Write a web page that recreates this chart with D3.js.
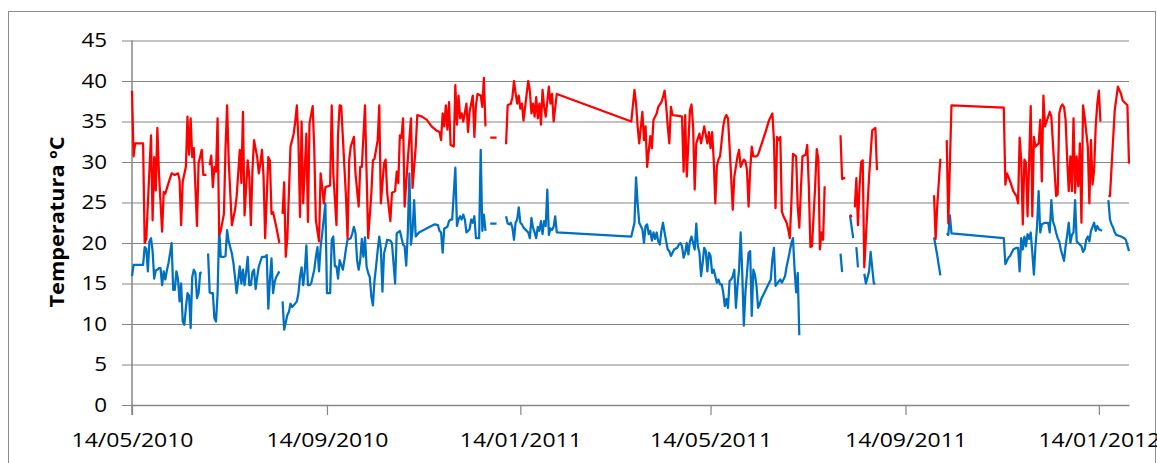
<!DOCTYPE html>
<html>
<head>
<meta charset="utf-8">
<script src="https://cdn.jsdelivr.net/npm/d3@7"></script>
<style>
  body { margin: 0; background: #fff; }
  svg { display: block; }
  .axis text { font-family: "Open Sans", sans-serif; font-size: 20px; fill: #000; }
  .title { font-family: "Open Sans", sans-serif; font-size: 20px; font-weight: bold; fill: #000; }
</style>
</head>
<body>
<svg id="chart_svg"></svg>
<script>
var viewWidth = 1157;
var viewHeight = 463;

var margin = {top: 40.5, right: 28, bottom: 58, left: 132};
var width = viewWidth - margin.left - margin.right;
var height = viewHeight - margin.top - margin.bottom;

// first day of the record, every point below is [days since startDay, ºC]
var startDay = "14/05/2010";
var lastDay = 629;
var tickDates = ["14/05/2010", "14/09/2010", "14/01/2011", "14/05/2011", "14/09/2011", "14/01/2012"];
var yTicks = [0, 5, 10, 15, 20, 25, 30, 35, 40, 45];

// daily maximum (red), null = no reading
var maxTemp = [
  [0,38.8],[1,30.7],[2,32.3],[7,32.3],[8,20.0],[9,20.5],[12,33.3],[13,22.8],[14,30.6],[15,26.5],[16,34.2],[17,28.6],
  [19,21.4],[20,26.3],[21,26.1],[23,27.4],[25,28.6],[27,28.4],[29,28.6],[30,27.8],[31,22.2],[32,27.6],[34,29.4],
  [35,35.6],[36,30.9],[37,35.4],[38,30.6],[39,31.7],[41,22.1],[42,29.8],[44,31.5],[45,28.4],[47,28.4],[48,null],
  [49,29.6],[50,30.8],[51,26.9],[52,29.4],[53,28.8],[54,35.4],[55,21.0],[56,21.5],[58,23.6],[59,31.7],[60,37.0],
  [61,30.2],[63,22.2],[65,24.1],[66,25.7],[68,31.5],[69,27.4],[70,36.2],[71,23.4],[73,30.2],[74,28.2],[75,22.2],
  [76,29.0],[77,32.7],[79,30.6],[80,28.6],[81,29.8],[82,31.5],[83,28.2],[84,20.6],[86,30.6],[87,30.2],[88,23.6],
  [89,23.8],[91,22.0],[93,20.0],[94,null],
  [95,23.6],[96,27.5],[97,18.3],[98,20.6],[100,31.9],[102,33.5],[103,35.0],[104,37.0],[105,32.7],[106,23.2],
  [107,35.0],[108,24.9],[110,33.5],[111,22.6],[112,34.8],[114,36.9],[115,31.5],[116,22.8],[118,20.2],[119,28.6],
  [120,26.9],[121,24.9],[122,26.9],[125,27.1],[126,37.0],[127,28.6],[129,22.2],[130,33.4],[131,37.0],[132,36.9],
  [134,29.4],[135,25.7],[136,20.6],[137,30.2],[138,31.9],[140,33.1],[141,28.6],[143,24.5],[144,29.4],[145,29.4],
  [147,37.0],[148,28.6],[149,20.6],[151,26.1],[152,30.2],[153,30.4],[155,32.7],[156,37.0],[157,24.9],[159,29.8],
  [160,30.3],[161,26.2],[163,22.7],[164,26.2],[166,26.4],[167,28.8],[168,27.4],[169,33.3],[170,33.0],[171,35.4],
  [172,24.5],[174,30.3],[176,35.4],[177,26.8],[179,31.9],[180,35.8],[183,35.6],[186,35.2],[189,34.4],[192,33.9],
  [194,33.7],[195,32.7],[196,36.0],[197,34.4],[198,37.0],[199,34.0],[200,37.4],[201,32.1],[203,31.9],[204,39.5],
  [205,34.6],[206,38.2],[207,35.4],[208,36.0],[209,35.0],[211,37.2],[212,33.7],[213,36.2],[215,38.2],[216,33.1],
  [217,37.0],[218,38.4],[220,38.2],[221,36.8],[222,40.4],[223,34.4],[224,null],
  [226,33.0],[230,33.0],[231,null],
  [236,32.2],[237,37.0],[239,37.2],[240,38.0],[241,40.0],[242,38.5],[243,37.2],[244,38.2],[245,36.6],[246,37.2],
  [247,35.1],[249,38.4],[250,40.0],[251,38.8],[252,36.0],[253,37.2],[254,35.6],[255,38.0],[256,35.4],[257,37.2],
  [258,34.6],[259,38.9],[260,36.8],[261,35.6],[263,39.3],[264,37.2],[265,38.4],[266,35.0],[268,38.4],[315,35.0],
  [317,38.9],[318,37.2],[319,34.4],[320,32.3],[322,36.2],[323,32.7],[324,34.4],[325,29.4],[326,31.3],[327,33.2],
  [328,31.7],[329,35.2],[331,36.0],[332,36.8],[334,37.4],[335,38.0],[336,38.8],[337,37.0],[338,34.4],[339,32.3],
  [340,36.8],[341,35.8],[345,35.7],[347,35.6],[348,28.8],[349,35.8],[350,28.2],[352,36.4],[353,37.1],[354,34.4],
  [355,26.6],[356,32.3],[358,33.5],[359,32.3],[360,33.3],[361,34.4],[363,32.3],[364,33.7],[365,31.7],[366,33.7],
  [367,30.3],[368,24.9],[369,29.5],[370,30.3],[371,30.7],[373,34.4],[374,35.4],[375,35.8],[376,35.4],[377,31.9],
  [378,28.2],[379,24.1],[380,28.2],[382,30.7],[383,31.5],[384,29.4],[386,30.3],[387,30.1],[388,29.0],[389,24.5],
  [390,29.0],[391,31.9],[392,30.7],[394,30.7],[395,30.9],[398,32.7],[400,33.9],[402,35.2],[404,36.0],[405,32.7],
  [406,24.3],[407,33.1],[408,32.7],[409,33.1],[410,23.9],[411,23.3],[413,22.5],[414,21.7],[415,20.6],[416,24.9],
  [417,31.0],[419,30.7],[420,24.5],[421,21.9],[422,26.6],[423,30.7],[425,30.9],[426,32.1],[427,27.0],[428,19.5],
  [429,19.6],[430,23.3],[431,27.0],[432,31.6],[433,30.3],[434,19.2],[435,21.3],[436,20.4],[437,27.0],[438,null],
  [447,33.3],[448,27.9],[449,28.0],[450,28.0],[451,null],
  [453,23.5],[454,23.2],[455,null],
  [456,24.4],[457,28.0],[458,22.2],[459,26.9],[460,30.0],[461,30.2],[462,17.0],[465,28.1],[467,33.9],[469,34.2],
  [470,29.0],[471,null],
  [506,25.9],[507,20.5],[508,24.5],[509,27.5],[510,30.4],[511,null],
  [514,32.7],[515,22.4],[517,37.0],[550,36.7],[551,27.2],[552,28.6],[554,27.6],[556,26.4],[558,25.8],
  [559,24.9],[560,33.0],[561,30.2],[562,22.3],[563,30.3],[564,29.9],[565,23.3],[566,30.0],[567,36.9],[568,23.3],
  [569,33.1],[570,31.9],[571,32.1],[572,32.3],[573,35.2],[574,27.6],[575,38.2],[576,34.4],[577,35.0],[579,36.2],
  [580,35.6],[581,32.3],[583,25.8],[584,26.0],[585,36.0],[586,36.8],[587,37.1],[588,36.8],[589,35.2],[590,30.3],
  [591,26.4],[592,30.7],[593,26.4],[594,35.4],[595,26.2],[596,30.7],[597,27.0],[598,32.3],[599,22.5],[600,37.0],
  [601,35.6],[603,31.9],[604,24.9],[605,32.7],[606,27.2],[607,29.0],[608,34.4],[609,37.2],[610,38.8],[611,35.0],
  [612,null],
  [616,25.8],[617,25.8],[620,36.4],[622,39.3],[624,38.4],[625,37.6],[628,37.0],[629,29.8]
];

// daily minimum (blue)
var minTemp = [
  [0,15.9],[1,17.3],[7,17.3],[8,19.5],[9,19.3],[10,16.5],[11,20.2],[12,20.6],[13,19.0],[14,15.6],[15,16.6],
  [16,16.7],[17,16.9],[18,16.9],[19,14.8],[20,16.5],[21,15.5],[22,16.6],[23,17.5],[24,18.7],[25,20.0],[26,14.2],
  [27,14.2],[28,16.5],[29,15.6],[30,12.8],[31,15.0],[32,10.3],[33,9.9],[34,12.0],[35,13.8],[36,13.5],[37,9.5],
  [38,15.8],[39,16.7],[40,16.3],[41,13.2],[42,13.8],[43,16.3],[44,16.4],[45,null],
  [48,18.7],[49,13.9],[50,13.8],[51,13.8],[52,10.7],[53,10.3],[54,13.8],[55,21.8],[56,18.3],[58,18.3],[59,18.4],
  [60,21.6],[61,20.2],[63,18.7],[64,17.5],[65,15.8],[66,13.8],[67,15.4],[68,17.1],[69,15.0],[70,16.7],[71,14.8],
  [72,16.4],[73,18.3],[74,14.8],[75,14.8],[76,16.4],[77,16.7],[78,14.3],[79,15.8],[80,17.1],[82,18.3],[84,18.3],
  [85,18.5],[86,11.9],[87,15.4],[88,18.1],[89,13.8],[90,15.2],[91,15.8],[93,16.5],[94,null],
  [95,12.8],[96,9.3],[98,11.1],[99,11.5],[100,12.5],[101,12.1],[102,12.3],[104,12.8],[105,13.8],[106,15.8],
  [107,17.0],[108,14.8],[109,16.5],[110,19.7],[111,14.8],[112,14.8],[113,15.0],[115,16.7],[116,18.3],[117,19.5],
  [118,16.5],[119,19.5],[120,21.2],[122,24.9],[123,13.8],[125,13.8],[126,20.4],[127,20.8],[128,17.1],[129,17.1],
  [130,15.6],[131,17.9],[133,16.7],[134,17.9],[135,19.3],[136,20.4],[138,20.6],[139,21.2],[140,22.0],[141,21.2],
  [142,17.9],[143,16.7],[144,17.9],[145,20.5],[146,18.3],[147,20.7],[148,17.1],[149,16.3],[150,15.8],[151,13.4],
  [152,12.3],[153,15.4],[154,17.1],[155,19.1],[156,20.8],[157,19.3],[158,14.0],[159,18.7],[160,19.5],[161,20.4],
  [163,20.3],[164,20.0],[165,17.5],[166,15.0],[167,21.2],[169,21.5],[171,19.8],[172,19.6],[173,17.2],[174,21.3],
  [175,28.6],[176,19.8],[177,21.5],[178,25.3],[179,20.8],[181,21.3],[184,21.6],[187,21.9],[191,22.3],[193,22.2],
  [194,21.5],[195,21.3],[196,18.8],[197,21.8],[199,22.0],[200,22.7],[201,22.9],[202,22.9],[204,29.3],[205,22.1],
  [206,22.9],[207,23.3],[208,22.9],[209,23.5],[210,22.9],[211,21.3],[212,21.5],[213,21.7],[214,22.9],[215,22.5],
  [216,23.3],[217,20.6],[219,20.6],[220,31.5],[221,21.5],[222,23.5],[223,21.5],[224,null],
  [226,22.4],[230,22.4],[231,null],
  [236,23.3],[237,22.4],[238,22.3],[239,22.5],[240,21.9],[241,20.4],[242,22.5],[243,22.9],[244,24.4],[245,22.5],
  [246,22.3],[247,21.9],[249,21.5],[250,21.3],[251,20.6],[252,23.1],[253,21.9],[254,21.3],[255,20.6],[256,22.0],
  [257,21.5],[258,22.7],[259,21.1],[260,22.7],[261,22.1],[262,26.6],[263,21.0],[264,21.8],[265,21.6],[266,22.0],
  [267,23.3],[268,21.3],[315,20.8],[317,22.5],[318,28.1],[319,24.9],[320,22.5],[322,21.7],[323,20.0],[324,22.1],
  [325,22.3],[326,21.1],[327,21.5],[328,20.3],[329,21.3],[330,20.5],[331,21.3],[332,20.2],[333,19.8],[334,21.5],
  [335,22.5],[336,21.3],[337,20.2],[338,19.2],[339,19.0],[340,18.4],[342,19.2],[344,19.4],[345,19.8],[346,20.0],
  [347,19.6],[348,18.2],[349,18.8],[350,20.0],[351,18.6],[352,20.2],[353,20.8],[355,19.2],[356,22.4],[357,19.6],
  [358,18.8],[359,15.9],[360,17.5],[361,19.4],[362,19.0],[363,16.5],[364,18.8],[365,18.4],[366,16.3],[367,16.7],
  [368,15.9],[369,15.1],[370,15.5],[371,14.9],[372,14.9],[373,13.9],[374,12.2],[375,13.1],[376,12.0],[377,15.3],
  [378,15.5],[379,15.9],[380,16.7],[381,12.0],[382,14.7],[383,16.7],[384,21.3],[385,16.3],[386,9.8],[387,13.9],
  [388,16.3],[389,18.8],[390,19.0],[391,11.0],[392,16.7],[393,16.1],[394,14.7],[395,12.0],[396,12.4],[397,13.1],
  [398,13.5],[399,13.9],[400,14.3],[401,14.7],[402,15.1],[403,15.5],[404,18.0],[405,19.4],[406,14.7],[409,15.5],
  [410,15.1],[412,15.9],[413,17.1],[414,18.0],[415,19.0],[416,20.0],[417,20.6],[418,16.8],[419,13.9],[420,16.3],
  [421,8.6],[422,null],
  [447,18.7],[448,16.4],[449,null],
  [453,23.4],[454,22.0],[455,20.6],[456,null],
  [457,19.5],[458,17.0],[459,null],
  [462,16.2],[463,15.0],[465,16.5],[466,18.9],[468,15.0],[469,15.0],[470,null],
  [506,20.7],[507,19.6],[508,18.5],[509,17.2],[510,16.0],[511,null],
  [514,21.2],[515,21.0],[516,23.4],[517,21.2],[550,20.6],[551,17.4],[553,18.2],[554,18.4],[556,19.2],
  [558,19.4],[559,19.4],[560,16.5],[561,20.6],[562,19.2],[563,20.8],[564,19.6],[565,21.1],[566,20.5],[567,21.3],
  [568,18.8],[569,16.1],[570,19.6],[571,22.1],[572,26.4],[573,21.3],[574,22.3],[576,22.5],[578,22.5],[579,21.3],
  [580,25.3],[581,22.7],[582,22.1],[583,21.3],[584,20.6],[585,20.2],[586,19.2],[588,17.8],[589,19.6],[590,21.0],
  [591,22.5],[592,20.0],[593,21.0],[594,21.3],[595,25.3],[596,20.2],[599,19.6],[600,18.9],[601,19.2],[602,20.4],
  [603,20.8],[604,20.2],[605,21.5],[607,22.5],[608,21.5],[609,22.1],[610,21.7],[612,21.5],[613,null],
  [616,25.3],[617,22.9],[618,22.3],[619,21.9],[620,21.3],[621,21.0],[624,20.8],[626,20.6],[627,20.4],[629,19.0]
];

var parseDay = d3.utcParse("%d/%m/%Y");
var formatDay = d3.utcFormat("%d/%m/%Y");
var day0 = parseDay(startDay);

var svg = d3.select("#chart_svg")
    .attr("width", viewWidth)
    .attr("height", viewHeight);

// outer chart frame
svg.append("rect")
    .attr("x", 8.5)
    .attr("y", 11.5)
    .attr("width", 1147)
    .attr("height", 480)
    .style("fill", "none")
    .style("stroke", "#8c8c8c")
    .style("stroke-width", 1);

var g = svg.append("g")
    .attr("transform", "translate(" + margin.left + "," + margin.top + ")");

var x = d3.scaleUtc()
  .domain([day0, d3.utcDay.offset(day0, lastDay)])
  .range([0, width]);
var y = d3.scaleLinear()
  .domain([0, 45])
  .range([height, 0]);

// horizontal gridlines, they stick out 10px left of the axis like excel ticks
var yAxis = d3.axisLeft(y)
  .tickValues(yTicks)
  .tickSizeInner(-(width + 10))
  .tickSizeOuter(0)
  .tickPadding(15);

g.append("g")
    .attr("class", "y axis")
    .attr("transform", "translate(-10,0)")
    .call(yAxis)
    .call(function(s) { s.select(".domain").remove(); })
    .call(function(s) {
      s.selectAll(".tick line").style("stroke", "#868686").style("stroke-width", 1.2);
      s.selectAll(".tick text")
        .attr("textLength", function(d) { return String(d).length * 12.8; })
        .attr("lengthAdjust", "spacingAndGlyphs");
    });

// vertical axis line
g.append("line")
    .attr("x1", 0).attr("x2", 0)
    .attr("y1", 0).attr("y2", height + 10)
    .style("stroke", "#868686")
    .style("stroke-width", 1.5);

var xAxis = d3.axisBottom(x)
  .tickValues(tickDates.map(parseDay))
  .tickFormat(formatDay)
  .tickSizeInner(10)
  .tickSizeOuter(0)
  .tickPadding(18);

g.append("g")
    .attr("class", "x axis")
    .attr("transform", "translate(0," + height + ")")
    .call(xAxis)
    .call(function(s) {
      s.select(".domain").style("stroke", "#868686").style("stroke-width", 1.5);
      s.selectAll(".tick line").style("stroke", "#868686").style("stroke-width", 1.2);
      s.selectAll(".tick text")
        .attr("textLength", 122)
        .attr("lengthAdjust", "spacingAndGlyphs");
    });

// y axis title
svg.append("text")
    .attr("class", "title")
    .attr("transform", "translate(64,222) rotate(-90)")
    .attr("text-anchor", "middle")
    .attr("textLength", 171)
    .attr("lengthAdjust", "spacingAndGlyphs")
    .text("Temperatura ºC");

var line = d3.line()
  .defined(function(d) { return d[1] !== null; })
  .x(function(d) { return x(d3.utcDay.offset(day0, d[0])); })
  .y(function(d) { return y(d[1]); });

g.append("path")
    .datum(minTemp)
    .attr("d", line)
    .style("fill", "none")
    .style("stroke", "#0070c0")
    .style("stroke-width", 2.25)
    .style("stroke-linejoin", "round");

g.append("path")
    .datum(maxTemp)
    .attr("d", line)
    .style("fill", "none")
    .style("stroke", "#ff0000")
    .style("stroke-width", 2.25)
    .style("stroke-linejoin", "round");
</script>
</body>
</html>
